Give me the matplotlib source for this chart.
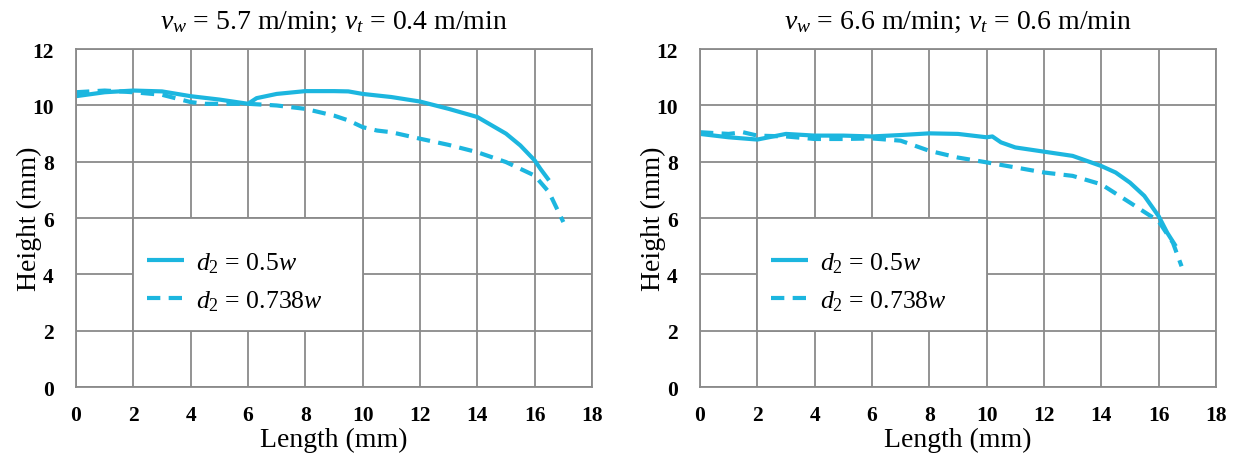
import matplotlib
matplotlib.use("Agg")
import matplotlib.pyplot as plt
from matplotlib.patches import Rectangle

plt.rcParams['font.family'] = ['Liberation Serif', 'DejaVu Serif']
plt.rcParams['mathtext.fontset'] = 'custom'
plt.rcParams['mathtext.rm'] = 'Liberation Serif'
plt.rcParams['mathtext.it'] = 'Liberation Serif:italic'

LINE_COLOR = '#1CB6DF'
GRID_COLOR = '#8a8a8a'

# left panel: v_w = 5.7, v_t = 0.4
left_x_a = [0, 1, 2, 3, 4, 5, 6, 6.3, 7, 8, 9, 9.5, 10, 11, 12, 13, 14, 15, 15.5, 16, 16.2, 16.5]
left_y_a = [10.33, 10.47, 10.53, 10.5, 10.33, 10.21, 10.06, 10.26, 10.41, 10.51, 10.51, 10.5,
            10.41, 10.3, 10.14, 9.88, 9.59, 9.0, 8.58, 8.05, 7.75, 7.34]
left_x_b = [0, 1, 2, 3, 4, 4.5, 5, 6, 7, 8, 9, 9.5, 10, 10.5, 11, 12, 13, 14, 15, 16, 16.5, 17.0]
left_y_b = [10.47, 10.53, 10.47, 10.38, 10.12, 10.06, 10.06, 10.06, 10.0, 9.88, 9.64, 9.47,
            9.23, 9.11, 9.05, 8.82, 8.6, 8.34, 7.99, 7.51, 6.92, 5.86]

# right panel: v_w = 6.6, v_t = 0.6
right_x_a = [0, 1, 2, 3, 4, 5, 6, 7, 8, 9, 10, 10.2, 10.5, 11, 12, 13, 14, 14.5, 15, 15.5, 16, 16.3, 16.6]
right_y_a = [8.99, 8.87, 8.79, 8.99, 8.93, 8.93, 8.9, 8.95, 9.01, 8.99, 8.87, 8.9, 8.69, 8.51,
             8.36, 8.21, 7.85, 7.62, 7.26, 6.79, 6.07, 5.48, 5.0]
right_x_b = [0, 1, 1.5, 2, 3, 4, 5, 6, 7, 7.5, 8, 9, 10, 11, 12, 13, 14, 15, 16, 16.5, 16.8]
right_y_b = [9.05, 8.99, 9.05, 8.93, 8.9, 8.81, 8.81, 8.83, 8.75, 8.57, 8.39, 8.15, 7.98, 7.8,
             7.62, 7.5, 7.2, 6.55, 5.89, 5.12, 4.29]

titles = [r'$v_w$ = 5.7 m/min; $v_t$ = 0.4 m/min', r'$v_w$ = 6.6 m/min; $v_t$ = 0.6 m/min']
labels = [r'$d_2$ = 0.5$w$', r'$d_2$ = 0.738$w$']


def draw_panel(ax, xa, ya, xb, yb, title):
    ax.plot(xa, ya, color=LINE_COLOR, lw=3.0, label=labels[0], solid_capstyle='butt')
    ax.plot(xb, yb, color=LINE_COLOR, lw=3.0, ls=(0, (3.2, 2.0)), label=labels[1])
    ax.set_xlim(0, 18)
    ax.set_ylim(0, 12)
    ax.set_xticks(range(0, 19, 2))
    ax.set_yticks(range(0, 13, 2))
    ax.grid(True, color=GRID_COLOR, lw=1.3)
    ax.set_axisbelow(True)
    for s in ax.spines.values():
        s.set_color(GRID_COLOR)
        s.set_linewidth(1.3)
    ax.tick_params(length=0, labelsize=15.5)
    ax.tick_params(axis='x', pad=13)
    ax.tick_params(axis='y', pad=16)
    for t in ax.get_xticklabels() + ax.get_yticklabels():
        t.set_fontweight('bold')
    ax.set_xlabel('Length (mm)', fontsize=20, labelpad=1)
    ax.set_ylabel('Height (mm)', fontsize=20, labelpad=-7)
    ax.set_title(title, fontsize=20, pad=15)
    # legend box covering part of the grid
    ax.add_patch(Rectangle((2, 2), 8, 4, facecolor='white', edgecolor=GRID_COLOR,
                           lw=1.3, zorder=1.5))
    ax.legend(loc='upper left', bbox_to_anchor=(2.47, 4.85), bbox_transform=ax.transData,
              frameon=False, fontsize=18.5, borderpad=0, borderaxespad=0,
              handlelength=1.45, handletextpad=0.45, labelspacing=0.5)


fig = plt.figure(figsize=(12.38, 4.56), dpi=100)
ax1 = fig.add_axes([0.0614, 0.149, 0.4168, 0.741])
ax2 = fig.add_axes([0.5654, 0.149, 0.4168, 0.741])

draw_panel(ax1, left_x_a, left_y_a, left_x_b, left_y_b, titles[0])
draw_panel(ax2, right_x_a, right_y_a, right_x_b, right_y_b, titles[1])

fig.savefig('out.png', dpi=100)
